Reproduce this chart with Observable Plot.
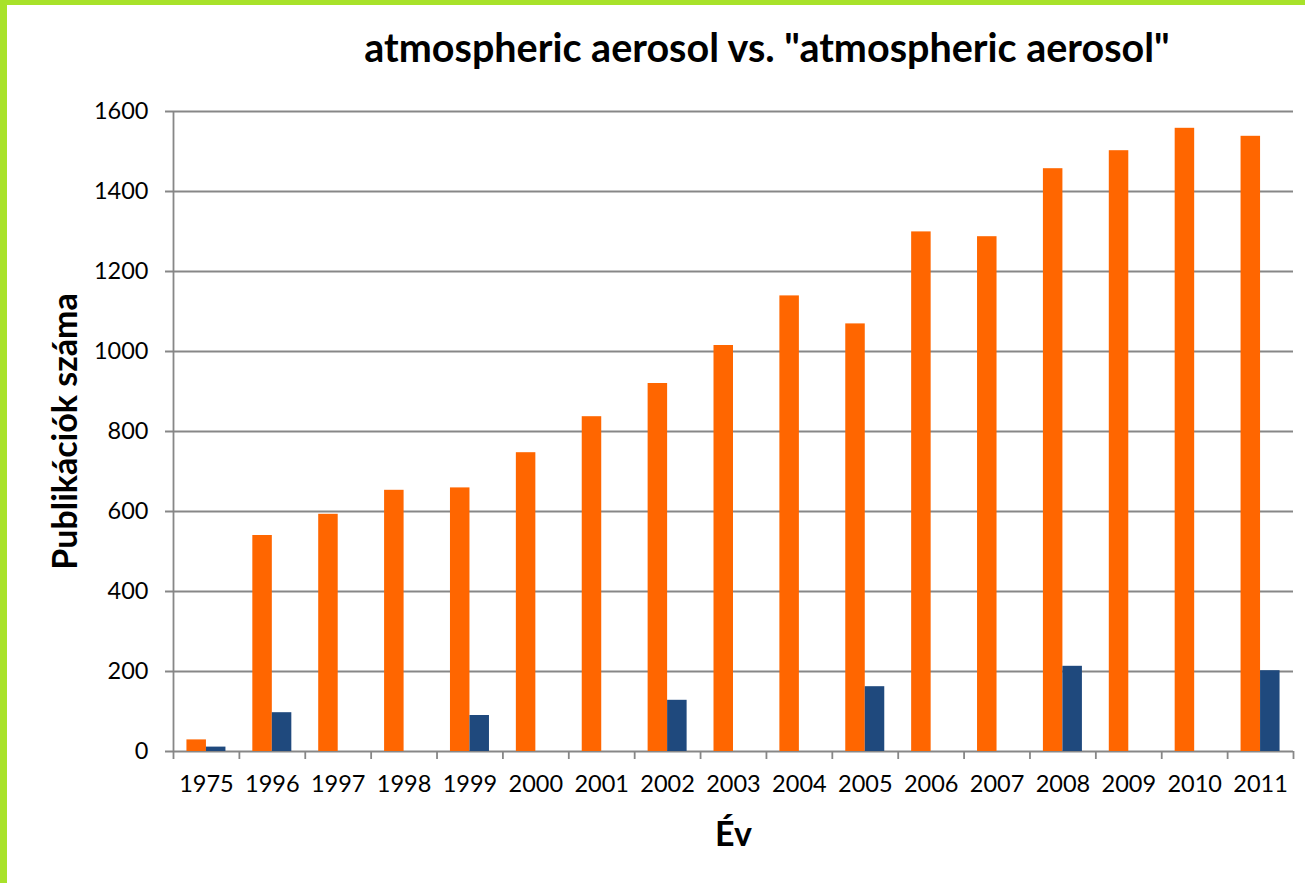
<!DOCTYPE html>
<html>
<head>
<meta charset="utf-8">
<script src="https://cdn.jsdelivr.net/npm/d3@7"></script>
<script src="https://cdn.jsdelivr.net/npm/@observablehq/plot@0.6"></script>
<style>
  html, body { margin: 0; padding: 0; background: #fff; }
  #page {
    width: 1298px; height: 878px;
    border-left: 7px solid #A8E22A; border-top: 5px solid #A8E22A;
    position: relative; overflow: hidden; font-family: Lato, sans-serif;
  }
  #title {
    height: 85px; box-sizing: border-box; padding-left: 222px; padding-top: 22px;
    text-align: center; font-weight: bold; font-size: 39.5px; line-height: 39.5px; color: #000;
    white-space: nowrap;
  }
  #chart svg { display: block; }
</style>
</head>
<body>
<div id="page">
  <div id="title">atmospheric aerosol vs. "atmospheric aerosol"</div>
  <div id="chart"></div>
</div>
<script>
const years = ["1975","1996","1997","1998","1999","2000","2001","2002","2003","2004","2005","2006","2007","2008","2009","2010","2011"];
const broadCounts = [29, 540, 593, 653, 659, 747, 837, 920, 1015, 1139, 1069, 1299, 1287, 1457, 1502, 1558, 1538];
const exactCounts = [11, 97, null, null, 90, null, null, 128, null, null, 162, null, null, 213, null, null, 202];
const yTicks = [0, 200, 400, 600, 800, 1000, 1200, 1400, 1600];
const yLabel = "Publikációk száma";
const xLabel = "Év";

const broad = years.map((year, i) => ({year, value: broadCounts[i]}));
const exact = years.map((year, i) => ({year, value: exactCounts[i]})).filter(d => d.value != null);

const W = 1298, H = 793, mL = 166, mR = 12, mT = 21, mB = 132;
const step = (W - mL - mR) / years.length;
const barW = 19.5;
const gray = "#878787";

const chart = Plot.plot({
  width: W, height: H,
  marginLeft: mL, marginRight: mR, marginTop: mT, marginBottom: mB,
  style: {fontFamily: "Lato, sans-serif", fontSize: "23px", color: "#000", background: "#fff"},
  x: {type: "band", domain: years, padding: 0, round: false, label: null},
  y: {domain: [0, 1600], label: null},
  marks: [
    Plot.ruleY(yTicks, {y: d => d, stroke: gray, strokeWidth: 1.8, insetLeft: -8}),
    Plot.ruleX([years[0]], {x: d => d, dx: -step / 2, y1: 1600, y2: 0, stroke: gray, strokeWidth: 1.8, insetBottom: -8}),
    Plot.ruleX(years, {x: d => d, dx: step / 2, y1: 0, y2: 0, stroke: gray, strokeWidth: 1.8, insetBottom: -8}),
    Plot.barY(broad, {x: "year", y: "value", fill: "#FF6600", insetLeft: step / 2 - barW, insetRight: step / 2}),
    Plot.barY(exact, {x: "year", y: "value", fill: "#1F497D", insetLeft: step / 2, insetRight: step / 2 - barW}),
    Plot.axisY({ticks: yTicks, tickSize: 0, tickPadding: 25, tickFormat: d => String(d), fontSize: 23.5, fill: "#000"}),
    Plot.axisX({tickSize: 0, tickPadding: 24, fontSize: 23.5, fill: "#000"}),
    Plot.text([yLabel], {frameAnchor: "left", dx: -107, rotate: -90, textAnchor: "middle", fontWeight: "bold", fontSize: 34, fill: "#000"}),
    Plot.text([xLabel], {frameAnchor: "bottom", dy: 84, lineAnchor: "middle", fontWeight: "bold", fontSize: 34, fill: "#000"})
  ]
});
document.getElementById("chart").appendChild(chart);
</script>
</body>
</html>
